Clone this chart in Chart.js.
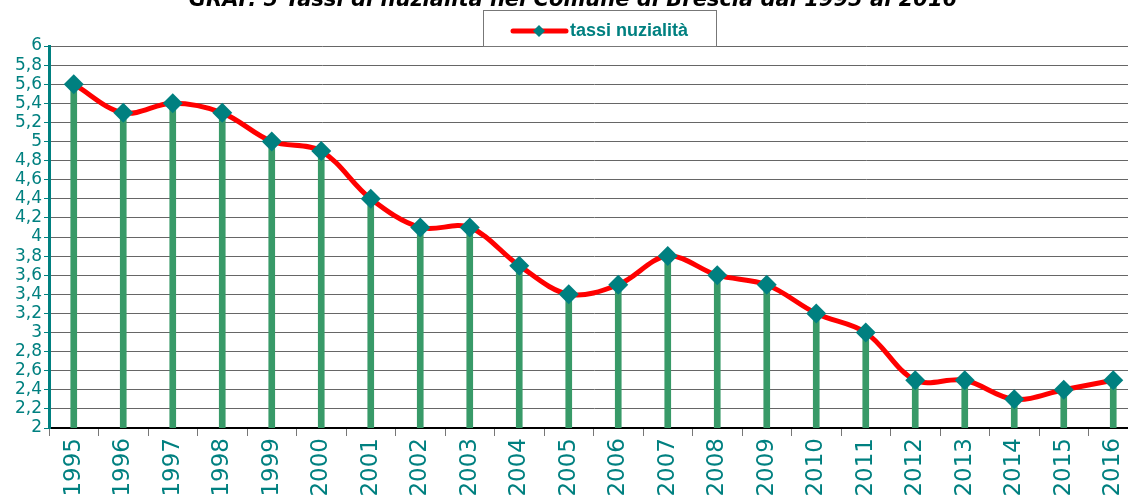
<!DOCTYPE html>
<html>
<head>
<meta charset="utf-8">
<script src="https://cdn.jsdelivr.net/npm/chart.js@4/dist/chart.umd.min.js"></script>
<style>
  html, body { margin: 0; padding: 0; background: #fff; overflow: hidden; }
  #wrap { position: absolute; left: 0; top: 0; width: 1148px; height: 498px; }
</style>
</head>
<body>
<div id="wrap"><canvas id="chart" width="1148" height="498"></canvas></div>
<script>
const titleText = 'GRAF. 5 Tassi di nuzialità nel Comune di Brescia dal 1995 al 2016';
const seriesName = 'tassi nuzialità';
const years = ['1995', '1996', '1997', '1998', '1999', '2000', '2001', '2002', '2003', '2004', '2005',
               '2006', '2007', '2008', '2009', '2010', '2011', '2012', '2013', '2014', '2015', '2016'];
const rates = [5.6, 5.3, 5.4, 5.3, 5.0, 4.9, 4.4, 4.1, 4.1, 3.7, 3.4,
               3.5, 3.8, 3.6, 3.5, 3.2, 3.0, 2.5, 2.5, 2.3, 2.4, 2.5];

const teal = '#008080';

// title (cut off at the top) and the boxed legend
const headerPlugin = {
    id: 'header',
    afterDraw(chart) {
        const ctx = chart.ctx;
        ctx.save();
        ctx.fillStyle = '#000';
        ctx.font = 'bold italic 21px "DejaVu Sans"';
        ctx.textAlign = 'center';
        ctx.textBaseline = 'alphabetic';
        ctx.fillText(titleText, 573, 6);

        // legend box
        ctx.fillStyle = '#fff';
        ctx.fillRect(483, 10, 233, 36);
        ctx.strokeStyle = '#777';
        ctx.lineWidth = 1;
        ctx.strokeRect(483.5, 10.5, 233, 36);

        ctx.strokeStyle = '#ff0000';
        ctx.lineWidth = 5;
        ctx.lineCap = 'round';
        ctx.beginPath();
        ctx.moveTo(513, 31);
        ctx.lineTo(566, 31);
        ctx.stroke();

        ctx.fillStyle = teal;
        ctx.beginPath();
        ctx.moveTo(539, 25);
        ctx.lineTo(545, 31);
        ctx.lineTo(539, 37);
        ctx.lineTo(533, 31);
        ctx.closePath();
        ctx.fill();

        ctx.font = 'bold 18px "Liberation Sans"';
        ctx.textAlign = 'left';
        ctx.textBaseline = 'middle';
        ctx.fillText(seriesName, 570, 31);
        ctx.restore();
    }
};

const ctx = document.getElementById('chart').getContext('2d');
new Chart(ctx, {
    data: {
        labels: years,
        datasets: [{
            type: 'line',
            label: seriesName,
            data: rates,
            borderColor: '#ff0000',
            borderWidth: 5,
            tension: 0.35,
            pointStyle: 'rectRot',
            pointRadius: 10,
            pointBackgroundColor: teal,
            pointBorderColor: teal,
            pointBorderWidth: 0,
            order: 1
        }, {
            type: 'bar',
            label: 'drop',
            data: rates,
            backgroundColor: '#389a68',
            barThickness: 6,
            order: 2
        }]
    },
    options: {
        responsive: false,
        animation: false,
        layout: { padding: { top: 46, right: 2, left: 0, bottom: 0 } },
        plugins: {
            legend: { display: false },
            title: { display: false },
            tooltip: { enabled: false }
        },
        scales: {
            x: {
                offset: true,
                grid: { offset: true, drawOnChartArea: false, color: '#777', tickLength: 8 },
                border: { color: '#000', width: 2 },
                ticks: {
                    color: teal,
                    font: { family: 'DejaVu Sans', size: 23 },
                    maxRotation: 90, minRotation: 90,
                    padding: 2
                },
                afterFit(scale) { scale.height = 70; }
            },
            y: {
                min: 2,
                max: 6,
                grid: { color: '#666', lineWidth: 1, tickColor: teal, tickLength: 5 },
                border: { color: teal, width: 3 },
                ticks: {
                    stepSize: 0.2,
                    autoSkip: false,
                    color: teal,
                    font: { family: 'DejaVu Sans', size: 17 },
                    padding: 2,
                    callback: v => String(Math.round(v * 10) / 10).replace('.', ',')
                },
                afterFit(scale) { scale.width = 49; }
            }
        }
    },
    plugins: [headerPlugin]
});
</script>
</body>
</html>
